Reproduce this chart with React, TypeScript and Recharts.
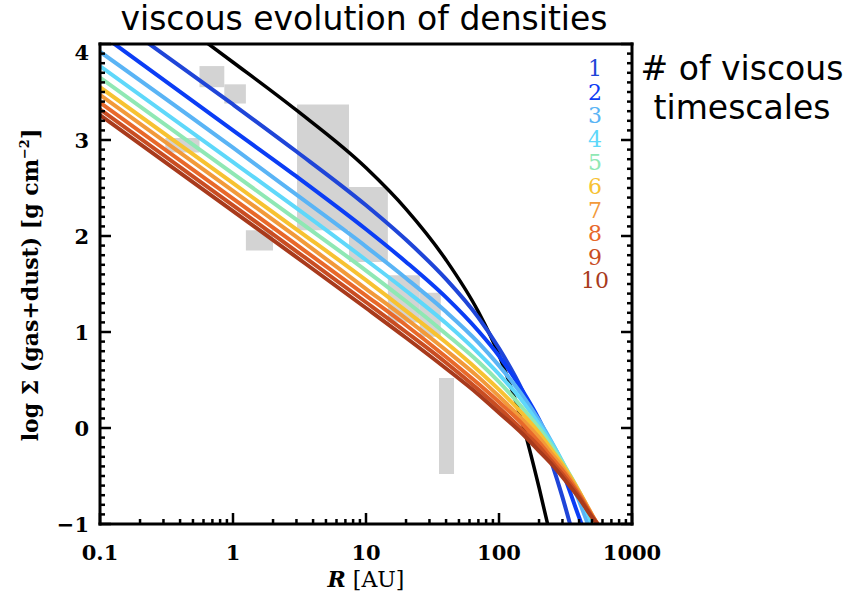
import React from 'react';
import { ComposedChart, Line, XAxis, YAxis, ReferenceArea } from 'recharts';

// ---- ticks ----
const xMajor = [0.1, 1, 10, 100, 1000];
const xTickLabels = ['0.1', '1', '10', '100', '1000'];
const xMinor = [0.2, 0.3, 0.4, 0.5, 0.6, 0.7, 0.8, 0.9, 2, 3, 4, 5, 6, 7, 8, 9, 20, 30, 40, 50, 60, 70, 80, 90, 200, 300, 400, 500, 600, 700, 800, 900];
const xTicks = [...xMajor, ...xMinor].sort((a, b) => a - b);
const yMajor = [-1, 0, 1, 2, 3, 4];
const yTickLabels = ['\u22121', '0', '1', '2', '3', '4'];
const yTicks = Array.from({ length: 51 }, (_, i) => Math.round((-1 + i * 0.1) * 10) / 10);

// ---- series: [R (AU), log Sigma] ----
const initialCurve = [[0.5, 4.12], [1, 3.81], [3, 3.31], [10, 2.71], [20, 2.28], [40, 1.75], [70, 1.21], [100, 0.76], [150, 0.05], [200, -0.62], [232, -1.0]];
const curve1 = [[0.2, 4.07], [1, 3.37], [3, 2.88], [10, 2.32], [20, 1.96], [40, 1.55], [70, 1.15], [100, 0.83], [150, 0.39], [200, -0.01], [250, -0.37], [300, -0.72], [342, -1.0]];
const curve2 = [[0.1, 4.11], [1, 3.10], [3, 2.62], [10, 2.07], [20, 1.73], [40, 1.36], [70, 1.01], [100, 0.75], [150, 0.39], [200, 0.09], [250, -0.19], [300, -0.45], [400, -0.93], [418, -1.0]];
const curve3 = [[0.1, 3.92], [1, 2.92], [3, 2.43], [10, 1.89], [20, 1.56], [40, 1.21], [70, 0.89], [100, 0.65], [150, 0.34], [200, 0.08], [250, -0.15], [300, -0.36], [400, -0.76], [465, -1.0]];
const curve4 = [[0.1, 3.77], [1, 2.77], [3, 2.29], [10, 1.75], [20, 1.43], [40, 1.09], [70, 0.78], [100, 0.56], [150, 0.28], [200, 0.04], [250, -0.16], [300, -0.35], [400, -0.69], [500, -1.0]];
const curve5 = [[0.1, 3.65], [1, 2.65], [3, 2.17], [10, 1.64], [20, 1.32], [40, 0.98], [70, 0.69], [100, 0.48], [150, 0.21], [200, 0.0], [250, -0.19], [300, -0.36], [400, -0.66], [500, -0.94], [520, -0.99]];
const curve6 = [[0.1, 3.55], [1, 2.55], [3, 2.07], [10, 1.54], [20, 1.22], [40, 0.89], [70, 0.60], [100, 0.40], [150, 0.15], [200, -0.05], [250, -0.23], [300, -0.38], [400, -0.66], [500, -0.91], [540, -1.0]];
const curve7 = [[0.1, 3.47], [1, 2.47], [3, 1.99], [10, 1.45], [20, 1.14], [40, 0.81], [70, 0.53], [100, 0.33], [150, 0.09], [200, -0.10], [250, -0.27], [300, -0.41], [400, -0.67], [500, -0.90], [548, -1.0]];
const curve8 = [[0.1, 3.39], [1, 2.39], [3, 1.91], [10, 1.38], [20, 1.07], [40, 0.74], [70, 0.46], [100, 0.27], [150, 0.04], [200, -0.15], [250, -0.31], [300, -0.44], [400, -0.69], [500, -0.91], [552, -1.0]];
const curve9 = [[0.1, 3.32], [1, 2.32], [3, 1.84], [10, 1.31], [20, 1.0], [40, 0.68], [70, 0.40], [100, 0.21], [150, -0.02], [200, -0.19], [250, -0.35], [300, -0.48], [400, -0.71], [500, -0.92], [552, -1.0]];
const curve10 = [[0.1, 3.26], [1, 2.26], [3, 1.78], [10, 1.25], [20, 0.94], [40, 0.62], [70, 0.35], [100, 0.16], [150, -0.06], [200, -0.24], [250, -0.38], [300, -0.51], [400, -0.73], [500, -0.93], [550, -1.0]];

const curveNames = ['1', '2', '3', '4', '5', '6', '7', '8', '9', '10'];
const curves = [curve1, curve2, curve3, curve4, curve5, curve6, curve7, curve8, curve9, curve10];
const curveColors = ['#1f45d8', '#0b3df5', '#5ab4f5', '#5fd8fa', '#8fe8b4', '#f7c232', '#f29a3a', '#e8692a', '#c94d22', '#a83a1c'];

// ---- observed ranges (grey boxes): [R1, R2, logSigma1, logSigma2] ----
const obsBoxes = [
  [0.31, 0.56, 2.87, 3.02],
  [0.56, 0.86, 3.55, 3.77],
  [0.86, 1.25, 3.38, 3.58],
  [1.25, 2.0, 1.85, 2.06],
  [3.03, 7.45, 2.06, 3.37],
  [7.45, 14.6, 1.73, 2.51],
  [14.6, 25.4, 1.1, 1.59],
  [25.4, 36.5, 0.95, 1.41],
  [35.4, 45.9, -0.48, 0.52],
];

const toData = (c: number[][]) => c.map(([r, s]) => ({ r, s }));

const serif = 'DejaVu Serif';
const isMajorX = (v: number) => xMajor.some((m) => Math.abs(m - v) / m < 1e-6);
const isMajorY = (v: number) => yMajor.some((m) => Math.abs(m - v) < 1e-6);

const XTickBottom = (props: any) => {
  const { x, y, payload } = props;
  const v = payload.value;
  const major = isMajorX(v);
  const idx = xMajor.findIndex((m) => Math.abs(m - v) / m < 1e-6);
  return (
    <g>
      <line x1={x} y1={y} x2={x} y2={y - (major ? 11 : 5)} stroke="#000" strokeWidth={2.5} />
      {major && (
        <text x={x} y={y + 36} textAnchor="middle" fontFamily={serif} fontWeight="bold" fontSize={21} fill="#000">
          {xTickLabels[idx]}
        </text>
      )}
    </g>
  );
};

const XTickTop = (props: any) => {
  const { x, y, payload } = props;
  const major = isMajorX(payload.value);
  return <line x1={x} y1={y} x2={x} y2={y + (major ? 11 : 5)} stroke="#000" strokeWidth={2.5} />;
};

const YTickLeft = (props: any) => {
  const { x, y, payload } = props;
  const v = payload.value;
  const major = isMajorY(v);
  const idx = yMajor.findIndex((m) => Math.abs(m - v) < 1e-6);
  return (
    <g>
      <line x1={x} y1={y} x2={x + (major ? 11 : 5)} y2={y} stroke="#000" strokeWidth={2.5} />
      {major && (
        <text x={x - 11} y={y + 8 + (v === 4 ? 8 : 0)} textAnchor="end" fontFamily={serif} fontWeight="bold" fontSize={21} fill="#000">
          {yTickLabels[idx]}
        </text>
      )}
    </g>
  );
};

const YTickRight = (props: any) => {
  const { x, y, payload } = props;
  const major = isMajorY(payload.value);
  return <line x1={x} y1={y} x2={x - (major ? 11 : 5)} y2={y} stroke="#000" strokeWidth={2.5} />;
};

const axisLine = { stroke: '#000', strokeWidth: 3, strokeLinecap: 'square' as const };

export default function App() {
  return (
    <div style={{ position: 'absolute', left: 0, top: 0, width: 848, height: 598, background: '#fff' }}>
      <ComposedChart width={848} height={598} margin={{ top: 0, right: 200, bottom: 0, left: 0 }}>
        <XAxis
          xAxisId="b"
          dataKey="r"
          type="number"
          scale="log"
          domain={[0.1, 1000]}
          allowDataOverflow
          ticks={xTicks}
          interval={0}
          height={74}
          tickSize={0}
          tickMargin={0}
          tickLine={false}
          axisLine={axisLine}
          tick={<XTickBottom />}
        />
        <XAxis
          xAxisId="t"
          orientation="top"
          type="number"
          scale="log"
          domain={[0.1, 1000]}
          allowDataOverflow
          ticks={xTicks}
          interval={0}
          height={44}
          tickSize={0}
          tickMargin={0}
          tickLine={false}
          axisLine={axisLine}
          tick={<XTickTop />}
        />
        <YAxis
          yAxisId="l"
          type="number"
          domain={[-1, 4]}
          allowDataOverflow
          ticks={yTicks}
          interval={0}
          width={100}
          tickSize={0}
          tickMargin={0}
          tickLine={false}
          axisLine={axisLine}
          tick={<YTickLeft />}
        />
        <YAxis
          yAxisId="r"
          orientation="right"
          type="number"
          domain={[-1, 4]}
          allowDataOverflow
          ticks={yTicks}
          interval={0}
          width={16}
          tickSize={0}
          tickMargin={0}
          tickLine={false}
          axisLine={axisLine}
          tick={<YTickRight />}
        />
        {obsBoxes.map(([x1, x2, y1, y2], i) => (
          <ReferenceArea
            key={'box' + i}
            xAxisId="b"
            yAxisId="l"
            x1={x1}
            x2={x2}
            y1={y1}
            y2={y2}
            fill="#d3d3d3"
            fillOpacity={1}
            stroke="none"
            ifOverflow="hidden"
          />
        ))}
        <Line
          xAxisId="b"
          yAxisId="l"
          data={toData(initialCurve)}
          dataKey="s"
          type="monotone"
          stroke="#000"
          strokeWidth={3.5}
          dot={false}
          isAnimationActive={false}
        />
        {curves.map((c, i) => (
          <Line
            key={curveNames[i]}
            name={curveNames[i]}
            xAxisId="b"
            yAxisId="l"
            data={toData(c)}
            dataKey="s"
            type="monotone"
            stroke={curveColors[i]}
            strokeWidth={4}
            dot={false}
            isAnimationActive={false}
          />
        ))}
      </ComposedChart>
      <svg width={848} height={598} style={{ position: 'absolute', left: 0, top: 0, pointerEvents: 'none' }}>
        <text x={364} y={30} textAnchor="middle" fontFamily="DejaVu Sans" fontSize={33} fill="#000">
          viscous evolution of densities
        </text>
        <text x={742} y={80} textAnchor="middle" fontFamily="DejaVu Sans" fontSize={33} fill="#000">
          # of viscous
        </text>
        <text x={742} y={119} textAnchor="middle" fontFamily="DejaVu Sans" fontSize={33} fill="#000">
          timescales
        </text>
        {curveNames.map((n, i) => (
          <text key={n} x={595} y={76 + i * 23.6} textAnchor="middle" fontFamily={serif} fontSize={22} fill={curveColors[i]}>
            {n}
          </text>
        ))}
        <text
          transform="translate(38,285) rotate(-90)"
          textAnchor="middle"
          fontFamily={serif}
          fontWeight="bold"
          fontSize={22}
          fill="#000"
        >
          log Σ (gas+dust) [g cm
          <tspan fontSize={13} dy={-9}>−2</tspan>
          <tspan dy={9}>]</tspan>
        </text>
        <text x={366} y={587} textAnchor="middle" fontFamily={serif} fontSize={22} fill="#000">
          <tspan fontStyle="italic" fontWeight="bold">R</tspan> [AU]
        </text>
      </svg>
    </div>
  );
}
